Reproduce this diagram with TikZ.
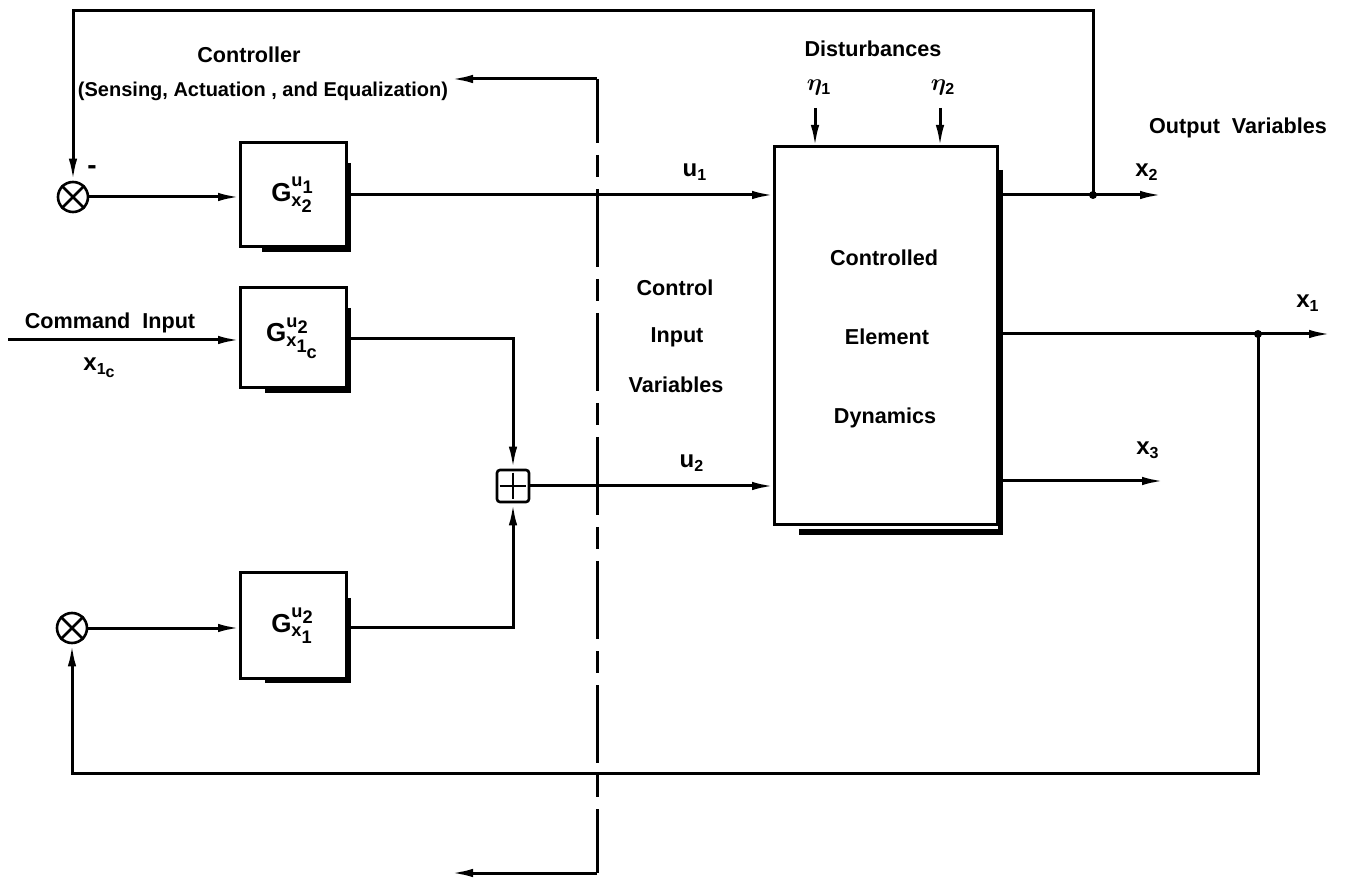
\documentclass[tikz,border=0pt]{standalone}
\usepackage{fontspec}
\usepackage{bm}
\setmainfont{Liberation Sans}
\usetikzlibrary{arrows.meta,calc}
\newcommand{\Gfn}[2]{$\mathbf{G}^{#1}_{#2}$}
\newcommand{\sdig}[1]{{\scriptstyle\mathbf{#1}}}
\newcommand{\dropshade}[3]{\draw[shad] ($(#1.north east)+(2.5,#2)$) -- ($(#1.south east)+(2.5,2.5)$) -- ($(#1.south west)+(#3,2.5)$);}
\begin{document}
\begin{tikzpicture}[x=0.5pt,y=-0.5pt,
  every node/.style={font=\fontsize{10.8}{12}\selectfont\bfseries},
  mlbl/.style={font=\fontsize{12}{14}\selectfont\bfseries},
  arr/.style={line width=1.5pt,-{Latex[length=11pt,width=4.2pt]}},
  gbox/.style={draw,line width=1.5pt,outer sep=0pt,minimum width=53pt,minimum height=52pt,inner sep=0pt,font=\fontsize{13}{15}\selectfont\bfseries},
  sumnode/.style={draw,circle,line width=1.3pt,minimum size=15pt,inner sep=0pt},
  plusbox/.style={draw,rounded corners=1.5pt,line width=1.3pt,minimum size=16pt,inner sep=0pt},
  shad/.style={line width=2.2pt},
  dashline/.style={line width=1.5pt,dash pattern=on 39pt off 6pt on 11pt off 6pt,dash phase=7pt}]
\useasboundingbox (0,0) rectangle (1349,881);

% blocks
\node[gbox] (g1) at (293,195) {\Gfn{\mathbf{u}_{\sdig{1}}}{\mathbf{x}_{\sdig{2}}}};
\node[gbox,minimum height=50pt] (g2) at (293,338) {\Gfn{\mathbf{u}_{\sdig{2}}}{\mathbf{x}_{\sdig{1}_{\sdig{c}}}}};
\node[gbox,minimum height=52.5pt] (g3) at (293,625.5) {\Gfn{\mathbf{u}_{\sdig{2}}}{\mathbf{x}_{\sdig{1}}}};
\node[draw,line width=1.5pt,outer sep=0pt,minimum width=111.5pt,minimum height=189pt,inner sep=0pt] (ce) at (885.5,336) {};
\dropshade{g1}{20}{22}
\dropshade{g2}{20}{25}
\dropshade{g3}{25}{25}
\draw[line width=2.6pt] ($(ce.north east)+(3.5,23)$) -- ($(ce.south east)+(3.5,7)$) -- ($(ce.south west)+(25,7)$);

% summing points
\node[sumnode] (s1) at (73,197) {};
\draw[line width=1.3pt] (s1.north east) -- (s1.south west) (s1.north west) -- (s1.south east);
\node[sumnode] (s2) at (72,628) {};
\draw[line width=1.3pt] (s2.north east) -- (s2.south west) (s2.north west) -- (s2.south east);
\node[plusbox] (pl) at (513,486) {};
\draw[line width=1.3pt] ($(pl.north)+(0,4)$) -- ($(pl.south)+(0,-4)$) ($(pl.west)+(4,0)$) -- ($(pl.east)+(-4,0)$);
\node[font=\fontsize{14}{14}\selectfont\bfseries] (minus) at (92,170) {-};

% texts
\node (ctrl) at (249,55) {Controller};
\node[font=\fontsize{10}{12}\selectfont\bfseries] (ctrlsub) at (263,91) {(Sensing, Actuation , and Equalization)};
\node (dist) at (873,49) {Disturbances};
\node[mlbl] (eta1) at (819,88) {$\bm{\eta}_{\sdig{1}}$};
\node[mlbl] (eta2) at (943,88) {$\bm{\eta}_{\sdig{2}}$};
\node (outv) at (1238,128) {Output\ \ Variables};
\node[mlbl] (lx2) at (1147,172) {$\mathbf{x}_{\sdig{2}}$};
\node[mlbl] (lx1) at (1308,303) {$\mathbf{x}_{\sdig{1}}$};
\node[mlbl] (lx3) at (1148,450) {$\mathbf{x}_{\sdig{3}}$};
\node[mlbl] (lu1) at (695,172) {$\mathbf{u}_{\sdig{1}}$};
\node[mlbl] (lu2) at (692,463) {$\mathbf{u}_{\sdig{2}}$};
\node (civ1) at (675,288) {Control};
\node (civ2) at (677,337) {Input};
\node (civ3) at (676,385) {Variables};
\node (ced1) at (884,258) {Controlled};
\node (ced2) at (887,337) {Element};
\node (ced3) at (885,418) {Dynamics};
\node (cmd) at (110,323) {Command\ \ Input};
\node[mlbl] (lx1c) at (100,368) {$\mathbf{x}_{\sdig{1}_{\sdig{c}}}$};

% coordinates
\coordinate (j2) at (1093,195);
\coordinate (j1) at (1258,334);
\coordinate (topR) at (1093,11);
\coordinate (botR) at (1258,773);
\coordinate (cin) at (8,340);
\coordinate (x2end) at (1162,195);
\coordinate (x1end) at (1331,334);
\coordinate (x3end) at (1164,481);
\coordinate (e1top) at (815,108);
\coordinate (e2top) at (940,108);
\coordinate (dtop) at (597,79);
\coordinate (dbot) at (597,873);
\coordinate (dtopend) at (451,79);
\coordinate (dbotend) at (451,873);

% dashed boundary
\draw[dashline] (dtop) -- (dbot);
\draw[arr] (dtop) -- (dtopend);
\draw[arr] (dbot) -- (dbotend);

% signal paths
\draw[arr] (s1.east) -- (s1 -| g1.west);
\draw[arr] ($(j2 -| g1.east)+(4,0)$) -- (j2 -| ce.west);
\draw[arr] (cin) -- (cin -| g2.west);
\draw[arr] ($(g2.east)+(4,1)$) -| (pl.north);
\draw[arr] (s2.east) -- (s2 -| g3.west);
\draw[arr] ($(g3.east)+(4,2)$) -| (pl.south);
\draw[arr] (pl.east) -- (pl -| ce.west);
\draw[arr] (e1top) -- (e1top |- ce.north);
\draw[arr] (e2top) -- (e2top |- ce.north);

% outputs
\draw[arr] ($(j2 -| ce.east)+(6,0)$) -- (x2end);
\draw[arr] ($(j1 -| ce.east)+(6,0)$) -- (x1end);
\draw[arr] ($(x3end -| ce.east)+(6,0)$) -- (x3end);
\fill (j2) circle (2pt);
\fill (j1) circle (2pt);

% feedback loops
\draw[arr] (j2) -- (topR) -| (s1.north);
\draw[arr] (j1) -- (botR) -| (s2.south);
\end{tikzpicture}
\end{document}
